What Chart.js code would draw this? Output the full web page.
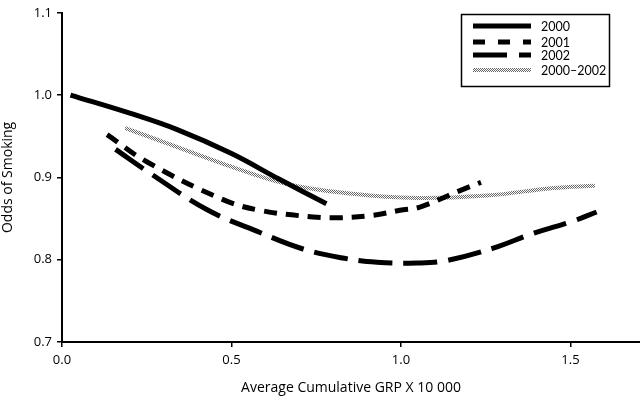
<!DOCTYPE html>
<html>
<head>
<meta charset="utf-8">
<script src="https://cdn.jsdelivr.net/npm/chart.js@4.4.1/dist/chart.umd.min.js"></script>
<style>
html,body{margin:0;padding:0;background:#fff;}
#wrap{width:640px;height:401px;position:relative;}
</style>
</head>
<body>
<div id="wrap"><canvas id="c" width="640" height="401"></canvas></div>
<script>
// ---- data ----
const seriesNames = ['2000', '2001', '2002', '2000\u20132002'];
const xs2000 = [0.025, 0.20, 0.34, 0.50, 0.64, 0.78];
const ys2000 = [1.000, 0.978, 0.958, 0.929, 0.898, 0.868];
const xs2001 = [0.133, 0.25, 0.475, 0.584, 0.74, 0.82, 0.917, 0.997, 1.056, 1.174, 1.236];
const ys2001 = [0.952, 0.919, 0.873, 0.860, 0.852, 0.851, 0.854, 0.860, 0.864, 0.884, 0.894];
const xs2002 = [0.158, 0.26, 0.427, 0.584, 0.711, 0.829, 0.929, 1.047, 1.135, 1.272, 1.39, 1.508, 1.577];
const ys2002 = [0.934, 0.905, 0.861, 0.833, 0.813, 0.802, 0.797, 0.796, 0.799, 0.814, 0.832, 0.847, 0.858];
const xsAll = [0.186, 0.30, 0.486, 0.663, 0.858, 1.046, 1.253, 1.449, 1.572];
const ysAll = [0.960, 0.943, 0.915, 0.892, 0.880, 0.875, 0.878, 0.887, 0.890];
const xTicks = [0.0, 0.5, 1.0, 1.5];
const yTicks = [0.7, 0.8, 0.9, 1.0, 1.1];

function pts(xs, ys){ return xs.map((x,i)=>({x:x, y:ys[i]})); }

const ctx = document.getElementById('c').getContext('2d');
// stipple pattern for the combined series
const pc = document.createElement('canvas'); pc.width = 2; pc.height = 2;
const pctx = pc.getContext('2d');
pctx.fillStyle = '#ffffff'; pctx.fillRect(0,0,2,2);
pctx.fillStyle = '#666666'; pctx.fillRect(0,0,1,1); pctx.fillRect(1,1,1,1);
const stipple = ctx.createPattern(pc, 'repeat');

const styles = [
  {color:'#000', dash:[], width:5},
  {color:'#000', dash:[13,9], width:5},
  {color:'#000', dash:[34,11], width:5},
  {color:stipple, dash:[], width:4}
];

const datasets = [
  pts(xs2000, ys2000), pts(xs2001, ys2001), pts(xs2002, ys2002), pts(xsAll, ysAll)
].map((d,i)=>({
  label: seriesNames[i],
  data: d,
  borderColor: styles[i].color,
  borderDash: styles[i].dash,
  borderWidth: styles[i].width,
  borderCapStyle: 'butt',
  pointRadius: 0,
  fill: false,
  tension: 0.4
}));
datasets[3].order = 5;

const FONT = '"Open Sans", sans-serif';
const LFONT = 'Lato, "Open Sans", sans-serif';

const legendBox = {
  id: 'legendBox',
  afterDraw(chart){
    const c = chart.ctx;
    c.save();
    c.strokeStyle = '#000'; c.lineWidth = 1.5; c.setLineDash([]);
    c.strokeRect(461.5, 14.5, 148, 72);
    const rows = [26, 42, 55, 70];
    rows.forEach((y,i)=>{
      c.beginPath();
      c.strokeStyle = styles[i].color;
      c.lineWidth = i === 3 ? 4 : 5;
      c.lineCap = 'butt';
      c.setLineDash(styles[i].dash.length ? (i===1 ? [12,13] : [34,12]) : []);
      c.moveTo(473, y); c.lineTo(531, y);
      c.stroke();
      c.setLineDash([]);
      c.fillStyle = '#000';
      c.font = '12.5px ' + LFONT;
      c.textBaseline = 'middle';
      c.textAlign = 'left';
      c.fillText(seriesNames[i], 541, y + 1);
    });
    c.restore();
  }
};

new Chart(ctx, {
  type: 'line',
  data: { datasets },
  plugins: [legendBox],
  options: {
    responsive: false,
    animation: false,
    layout: { padding: { top: 5, right: 0, left: 0, bottom: 0 } },
    plugins: { legend: { display: false }, tooltip: { enabled: false } },
    scales: {
      x: {
        type: 'linear', min: 0, max: 1.705,
        afterBuildTicks(s){ s.ticks = xTicks.map(v=>({value:v})); },
        afterFit(s){ s.height = 59; },
        grid: { drawOnChartArea: false, drawTicks: true, tickLength: 5, color: '#000', lineWidth: 1.5 },
        border: { color: '#000', width: 2 },
        ticks: { color: '#000', font: { family: FONT, size: 13 }, padding: 5, maxRotation: 0,
          callback: v => v.toFixed(1) },
        title: { display: true, text: 'Average Cumulative GRP X 10 000', color: '#000',
          font: { family: FONT, size: 14 }, padding: { top: 8, bottom: 5 } }
      },
      y: {
        min: 0.7, max: 1.1,
        afterBuildTicks(s){ s.ticks = yTicks.map(v=>({value:v})); },
        afterFit(s){ s.width = 62; },
        grid: { drawOnChartArea: false, drawTicks: true, tickLength: 5, color: '#000', lineWidth: 1.5 },
        border: { color: '#000', width: 2 },
        ticks: { color: '#000', font: { family: FONT, size: 13 }, padding: 5,
          callback: v => v.toFixed(1) },
        title: { display: true, text: 'Odds of Smoking', color: '#000',
          font: { family: FONT, size: 14 }, padding: { top: 0, bottom: 6 } }
      }
    }
  }
});
</script>
</body>
</html>
